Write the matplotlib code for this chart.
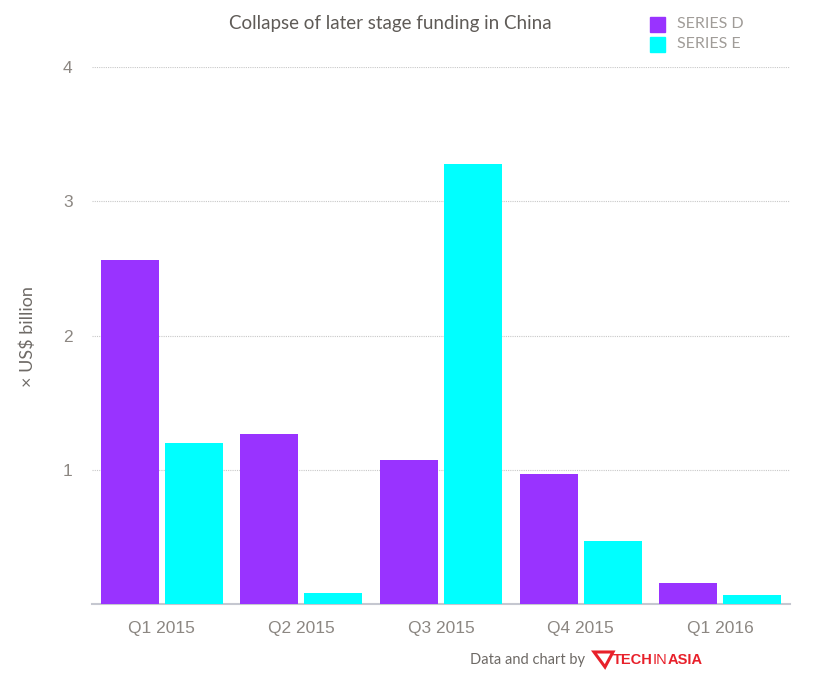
import numpy as np
import matplotlib.pyplot as plt
from matplotlib.patches import Rectangle, Polygon

quarters = ["Q1 2015", "Q2 2015", "Q3 2015", "Q4 2015", "Q1 2016"]
series_d = [2.56, 1.27, 1.07, 0.97, 0.16]
series_e = [1.20, 0.08, 3.28, 0.47, 0.065]

purple = "#9933ff"
cyan = "#00ffff"
grey_txt = "#8c8782"

fig = plt.figure(figsize=(8.22, 6.82), dpi=100)
ax = fig.add_axes([92 / 822, 78 / 682, 698 / 822, 537 / 682])

x = np.arange(len(quarters))
w = 0.415
off = 0.229
ax.bar(x - off, series_d, width=w, color=purple, zorder=3)
ax.bar(x + off, series_e, width=w, color=cyan, zorder=3)

ax.set_xlim(-0.5, len(quarters) - 0.5)
ax.set_ylim(0, 4)
ax.set_yticks([1, 2, 3, 4])
ax.set_xticks(x)
ax.set_xticklabels(quarters)
ax.tick_params(axis="both", length=0, labelsize=12.5, labelcolor=grey_txt)
ax.tick_params(axis="x", pad=12)
ax.tick_params(axis="y", pad=14)
for lab in ax.get_xticklabels() + ax.get_yticklabels():
    lab.set_family("Liberation Sans")

ax.grid(axis="y", linestyle=(0, (1, 1)), color="#c8c8c8", linewidth=0.8, zorder=0)
for s in ["top", "right", "left"]:
    ax.spines[s].set_visible(False)
ax.spines["bottom"].set_color("#c5c7d0")
ax.spines["bottom"].set_linewidth(1.5)

fig.text(28 / 822, 1 - 337 / 682, "× US$ billion", rotation=90, ha="center", va="center",
         fontsize=13, color="#6e6a66", family="Lato")

fig.text(390 / 822, 1 - 24 / 682, "Collapse of later stage funding in China",
         ha="center", va="center", fontsize=13.5, color="#5f5b57", family="Lato")

# legend
for i, (lbl, col) in enumerate([("SERIES D", purple), ("SERIES E", cyan)]):
    yc = 24 + i * 20
    fig.patches.append(Rectangle((650 / 822, 1 - (yc + 8) / 682), 15 / 822, 15 / 682,
                                 transform=fig.transFigure, color=col))
    fig.text(677 / 822, 1 - yc / 682, lbl, ha="left", va="center",
             fontsize=11.5, color="#a09c98", family="Lato")

# footer
fig.text(585 / 822, 1 - 660 / 682, "Data and chart by", ha="right", va="center",
         fontsize=10.5, color="#6e6a66", family="Lato")
red = "#e8202a"
logo = Polygon([(594 / 822, 1 - 652 / 682), (613 / 822, 1 - 652 / 682),
                (605 / 822, 1 - 667 / 682)], closed=True, fill=False,
               edgecolor=red, linewidth=2.2, transform=fig.transFigure)
fig.patches.append(logo)
fig.text(613 / 822, 1 - 660 / 682, "TECH", ha="left", va="center",
         fontsize=10.5, color=red, weight="bold", family="Liberation Sans")
fig.text(653 / 822, 1 - 660 / 682, "IN", ha="left", va="center",
         fontsize=10.5, color=red, family="Liberation Sans")
fig.text(668 / 822, 1 - 660 / 682, "ASIA", ha="left", va="center",
         fontsize=10.5, color=red, weight="bold", family="Liberation Sans")

fig.savefig("out.png", dpi=100, facecolor="white")
